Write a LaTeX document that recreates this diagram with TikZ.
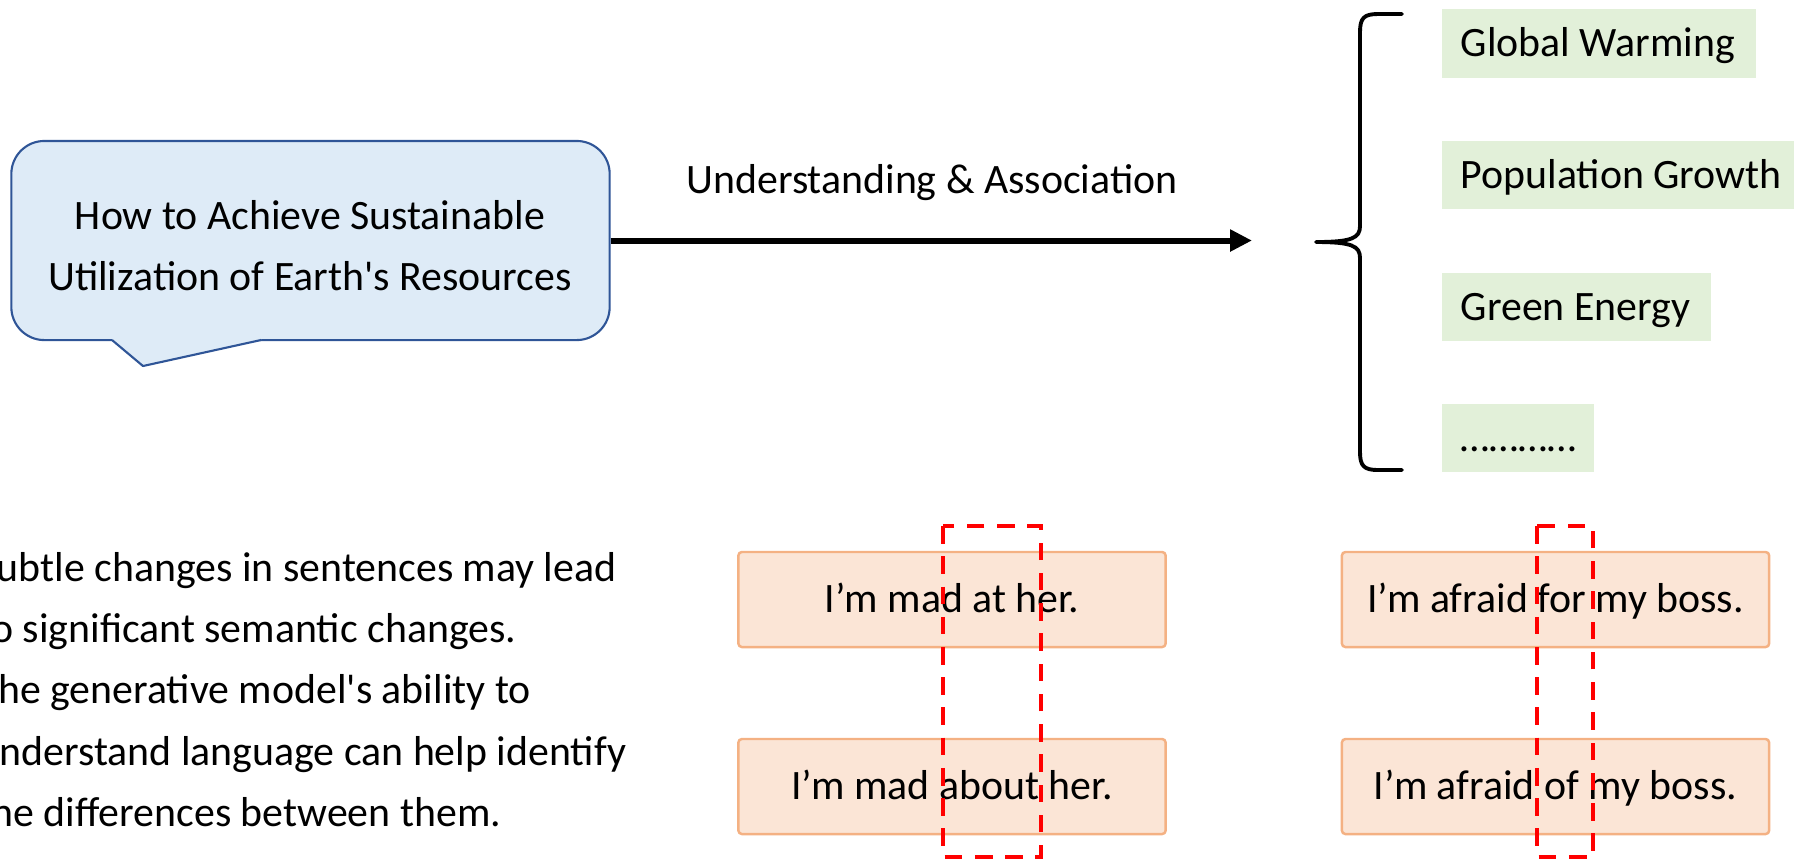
\documentclass[tikz,border=0pt]{standalone}
\usepackage{fontspec}
\setmainfont{Carlito}[Ligatures=TeXOff]
\usetikzlibrary{arrows.meta}
\definecolor{calfill}{HTML}{DEEBF7}
\definecolor{calline}{HTML}{2F5597}
\definecolor{leaffill}{HTML}{E2F0D9}
\definecolor{pairfill}{HTML}{FBE5D6}
\definecolor{pairline}{HTML}{F4B183}
\definecolor{markred}{HTML}{FF0000}
\begin{document}
\begin{tikzpicture}[x=0.01cm, y=-0.01cm,
  every node/.style={font=\fontsize{11.9pt}{17.4pt}\selectfont},
  capline/.style={inner sep=0pt, text height=7.6pt, text depth=0pt},
  bubble/.style={draw=calline, fill=calfill, line width=0.6pt, rounded corners=0.33cm,
    minimum width=5.98cm, minimum height=1.99cm, inner sep=0pt},
  leaf/.style={fill=leaffill, inner sep=0pt, anchor=north west},
  pair/.style={draw=pairline, fill=pairfill, line width=0.7pt, rounded corners=1pt,
    minimum width=4.27cm, minimum height=0.95cm, inner sep=0pt, text height=7.6pt, text depth=0pt},
  diffbox/.style={draw=markred, line width=1.2pt, dash pattern=on 5pt off 3.6pt},
  bracestroke/.style={line width=1.1pt, line cap=round, line join=round},
  flow/.style={line width=1.7pt, -{Triangle[length=0.22cm,width=0.21cm]}}
]
\useasboundingbox (0,0) rectangle (1794,859);
\clip (0,0) rectangle (1794,859);

% question bubble with its tail
\node[bubble] (q) at (310.5,240.5) {};
\fill[calfill] (112,337) -- (112,340) -- (143,366) -- (261,340) -- (261,337) -- cycle;
\draw[calline, line width=0.6pt, line join=round] (112,340) -- (143,366) -- (261,340);
\node[align=center, inner sep=0pt] (qt) at (310,245.5)
  {How to Achieve Sustainable\\Utilization of Earth's Resources};

% main arrow and its label
\coordinate (tipA) at (1252,240.5);
\draw[flow] (q.east) -- (tipA);
\node[capline] (lbl) at (932,180) {Understanding \& Association};

% curly brace
\draw[bracestroke] (1402,14) -- (1378,14) .. controls (1364,14) and (1360,18) .. (1360,32)
  -- (1360,226) .. controls (1360,238) and (1352,242) .. (1316,242)
  .. controls (1352,242) and (1360,246) .. (1360,258)
  -- (1360,452) .. controls (1360,466) and (1364,470) .. (1378,470) -- (1402,470);

% associated topics
\node[leaf, minimum width=3.14cm, minimum height=0.69cm] (gw) at (1441,8) {};
\node[capline, anchor=west] (gwt) at ([xshift=0.19cm]gw.west) {Global Warming};
\node[leaf, minimum width=3.53cm, minimum height=0.68cm] (pg) at (1441,140) {};
\node[capline, anchor=west] (pgt) at ([xshift=0.19cm]pg.west) {Population Growth};
\node[leaf, minimum width=2.69cm, minimum height=0.68cm] (ge) at (1441,272) {};
\node[capline, anchor=west] (get) at ([xshift=0.19cm]ge.west) {Green Energy};
\node[leaf, minimum width=1.52cm, minimum height=0.68cm] (more) at (1441,403) {};
\node[capline, anchor=west] (moret) at ([xshift=0.19cm]more.west) {…………};

% explanatory note
\node[align=left, inner sep=0pt, anchor=west] (note) at (-23,689.5)
  {Subtle changes in sentences may lead\\to significant semantic changes.\\The generative model's ability to\\understand language can help identify\\the differences between them.};

% sentence pairs
\node[pair] (a1) at (952,599.5) {I’m mad at her.};
\node[pair] (a2) at (952,786.5) {I’m mad about her.};
\node[pair] (b1) at (1555.5,599.5) {I’m afraid for my boss.};
\node[pair] (b2) at (1555.5,786.5) {I’m afraid of my boss.};

% highlighted differences
\draw[diffbox] (943,526) rectangle (1041,857);
\draw[diffbox] (1537,526) rectangle (1593,857);
\end{tikzpicture}
\end{document}
